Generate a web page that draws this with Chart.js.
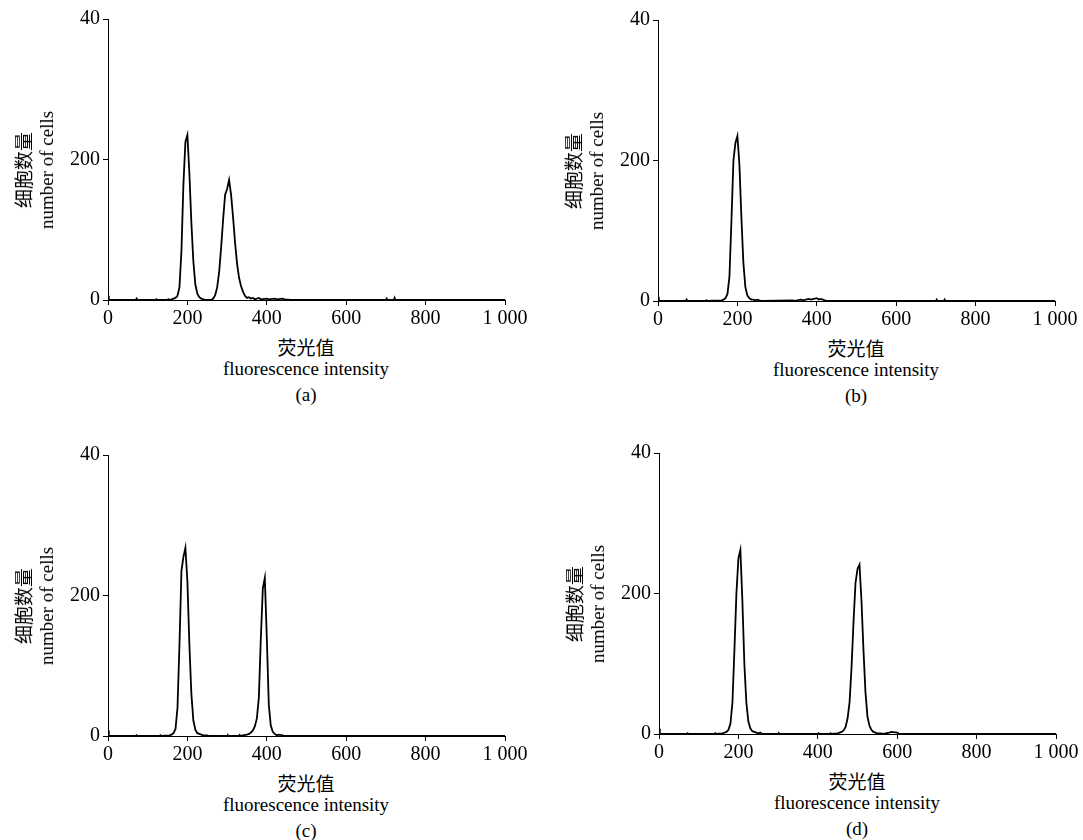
<!DOCTYPE html>
<html><head><meta charset="utf-8">
<script src="https://cdn.jsdelivr.net/npm/chart.js@4"></script>
<style>
body{margin:0;width:1083px;height:840px;background:#fff;position:relative;overflow:hidden;font-family:"Liberation Serif",serif;}
canvas{position:absolute;}
.t{position:absolute;font-size:19px;color:#000;text-align:center;white-space:nowrap;transform:translateX(-50%);}
.cj{font-family:"Noto Sans CJK SC",sans-serif;}
.yt{position:absolute;font-size:19px;line-height:22px;text-align:center;white-space:nowrap;transform:translate(-50%,-50%) rotate(-90deg);}
</style></head><body>
<script>
// bin centres / counts per panel
const xA=[0,2,4,70,72,74,120,122,124,150,152,154,160,165,170,175,180,185,190,195,200,205,210,215,220,225,230,235,240,245,260,265,270,275,280,285,290,295,300,305,310,315,320,325,330,335,340,345,350,355,360,365,370,380,385,400,405,420,425,440,445,460,700,702,704,720,722,724,1000];
const yA=[6,0,0,0,2,0,0,1,0,0,1,0,1,2,3,6,18,70,165,225,235,180,110,55,22,9,4,2,1,0,0,2,7,18,40,75,115,150,158,171,150,118,82,52,32,20,12,6,3,4,2,3,1,3,1,2,1,2,1,2,1,0,0,2,0,0,3,0,0];
const xB=[0,2,4,70,72,74,120,122,124,160,165,170,175,180,185,190,195,200,205,210,215,220,225,230,235,240,245,250,255,260,340,345,360,365,380,385,400,405,410,420,425,700,702,704,720,722,724,1000];
const yB=[6,0,0,0,2,0,0,1,0,1,2,4,10,35,115,200,225,235,195,120,55,20,8,4,2,2,1,2,1,0,1,0,2,1,3,2,4,2,3,1,0,0,2,0,0,2,0,0];
const xC=[0,2,4,70,72,74,130,132,134,155,160,165,170,175,180,185,190,195,200,205,210,215,220,225,230,235,240,250,255,300,302,304,330,332,334,350,355,360,365,370,375,380,385,390,395,400,405,410,415,420,425,430,440,445,1000];
const yC=[8,0,0,0,1,0,0,1,0,1,2,4,10,40,130,235,255,268,220,130,60,22,9,4,3,2,1,1,0,0,1,0,0,1,0,2,3,5,8,14,25,55,140,210,225,140,45,15,6,3,1,2,1,0,0];
const xD=[0,2,4,70,72,74,140,142,144,160,165,170,175,180,185,190,195,200,205,210,215,220,225,230,235,240,245,250,255,260,300,302,304,400,402,404,430,432,434,450,455,460,465,470,475,480,485,490,495,500,505,510,515,520,525,530,535,540,545,550,560,565,580,585,600,605,1000];
const yD=[8,0,0,0,1,0,0,1,0,1,2,3,6,15,45,120,200,250,262,190,100,45,18,8,4,3,2,1,2,0,0,1,0,0,1,0,0,1,0,1,2,3,5,10,22,45,95,160,215,235,241,190,120,60,25,12,6,3,2,1,1,0,2,3,2,0,0];
const yTicks=[0,200,400];
const yTickLabels={0:'0',200:'200',400:'40'};
const xTickLabels={0:'0',200:'200',400:'400',600:'600',800:'800',1000:'1 000'};

const panels=[
 {xs:xA,ys:yA,left:0,top:0,cap:'a'},
 {xs:xB,ys:yB,left:550,top:1,cap:'b'},
 {xs:xC,ys:yC,left:0,top:436,cap:'c'},
 {xs:xD,ys:yD,left:551,top:434,cap:'d'}
];
const F={family:'"Liberation Serif", serif',size:20};
panels.forEach(p=>{
 const c=document.createElement('canvas');
 c.style.left=p.left+'px';c.style.top=p.top+'px';
 c.style.width='540px';c.style.height='330px';
 document.body.appendChild(c);
 new Chart(c,{type:'line',
  data:{datasets:[{data:p.xs.map((x,i)=>({x:x,y:p.ys[i]})),borderColor:'#000',borderWidth:1.8,pointRadius:0,tension:0,fill:false}]},
  options:{responsive:false,animation:false,devicePixelRatio:1,
   layout:{padding:{top:19,right:35,left:0,bottom:0}},
   plugins:{legend:{display:false},tooltip:{enabled:false}},
   scales:{
    x:{type:'linear',min:0,max:1000,afterBuildTicks:s=>{s.ticks=[0,200,400,600,800,1000].map(v=>({value:v}));},
      afterFit:s=>{s.height=30;},
      ticks:{font:F,color:'#000',padding:2,maxRotation:0,callback:v=>xTickLabels[v]},
      grid:{drawOnChartArea:false,tickLength:5,color:'#000'},border:{color:'#000',width:1}},
    y:{min:0,max:400,afterBuildTicks:s=>{s.ticks=yTicks.map(v=>({value:v}));},
      afterFit:s=>{s.width=108;},
      ticks:{font:F,color:'#000',padding:3,callback:v=>yTickLabels[v]},
      grid:{drawOnChartArea:false,tickLength:5,color:'#000'},border:{color:'#000',width:1}}
   }}});
 const cx=p.left+306, t=p.top;
 const add=(cls,txt,x,y)=>{const d=document.createElement('div');d.className=cls;d.textContent=txt;d.style.left=x+'px';d.style.top=y+'px';document.body.appendChild(d);};
 add('t cj','荧光值',cx,t+333);
 add('t','fluorescence intensity',cx,t+358);
 add('t','('+p.cap+')',cx,t+384);
 const y=document.createElement('div');y.className='yt';
 y.innerHTML='<span class="cj">细胞数量</span><br>number of cells';
 y.style.left=(p.left+35)+'px';y.style.top=(t+170)+'px';document.body.appendChild(y);
});
</script>
</body></html>
